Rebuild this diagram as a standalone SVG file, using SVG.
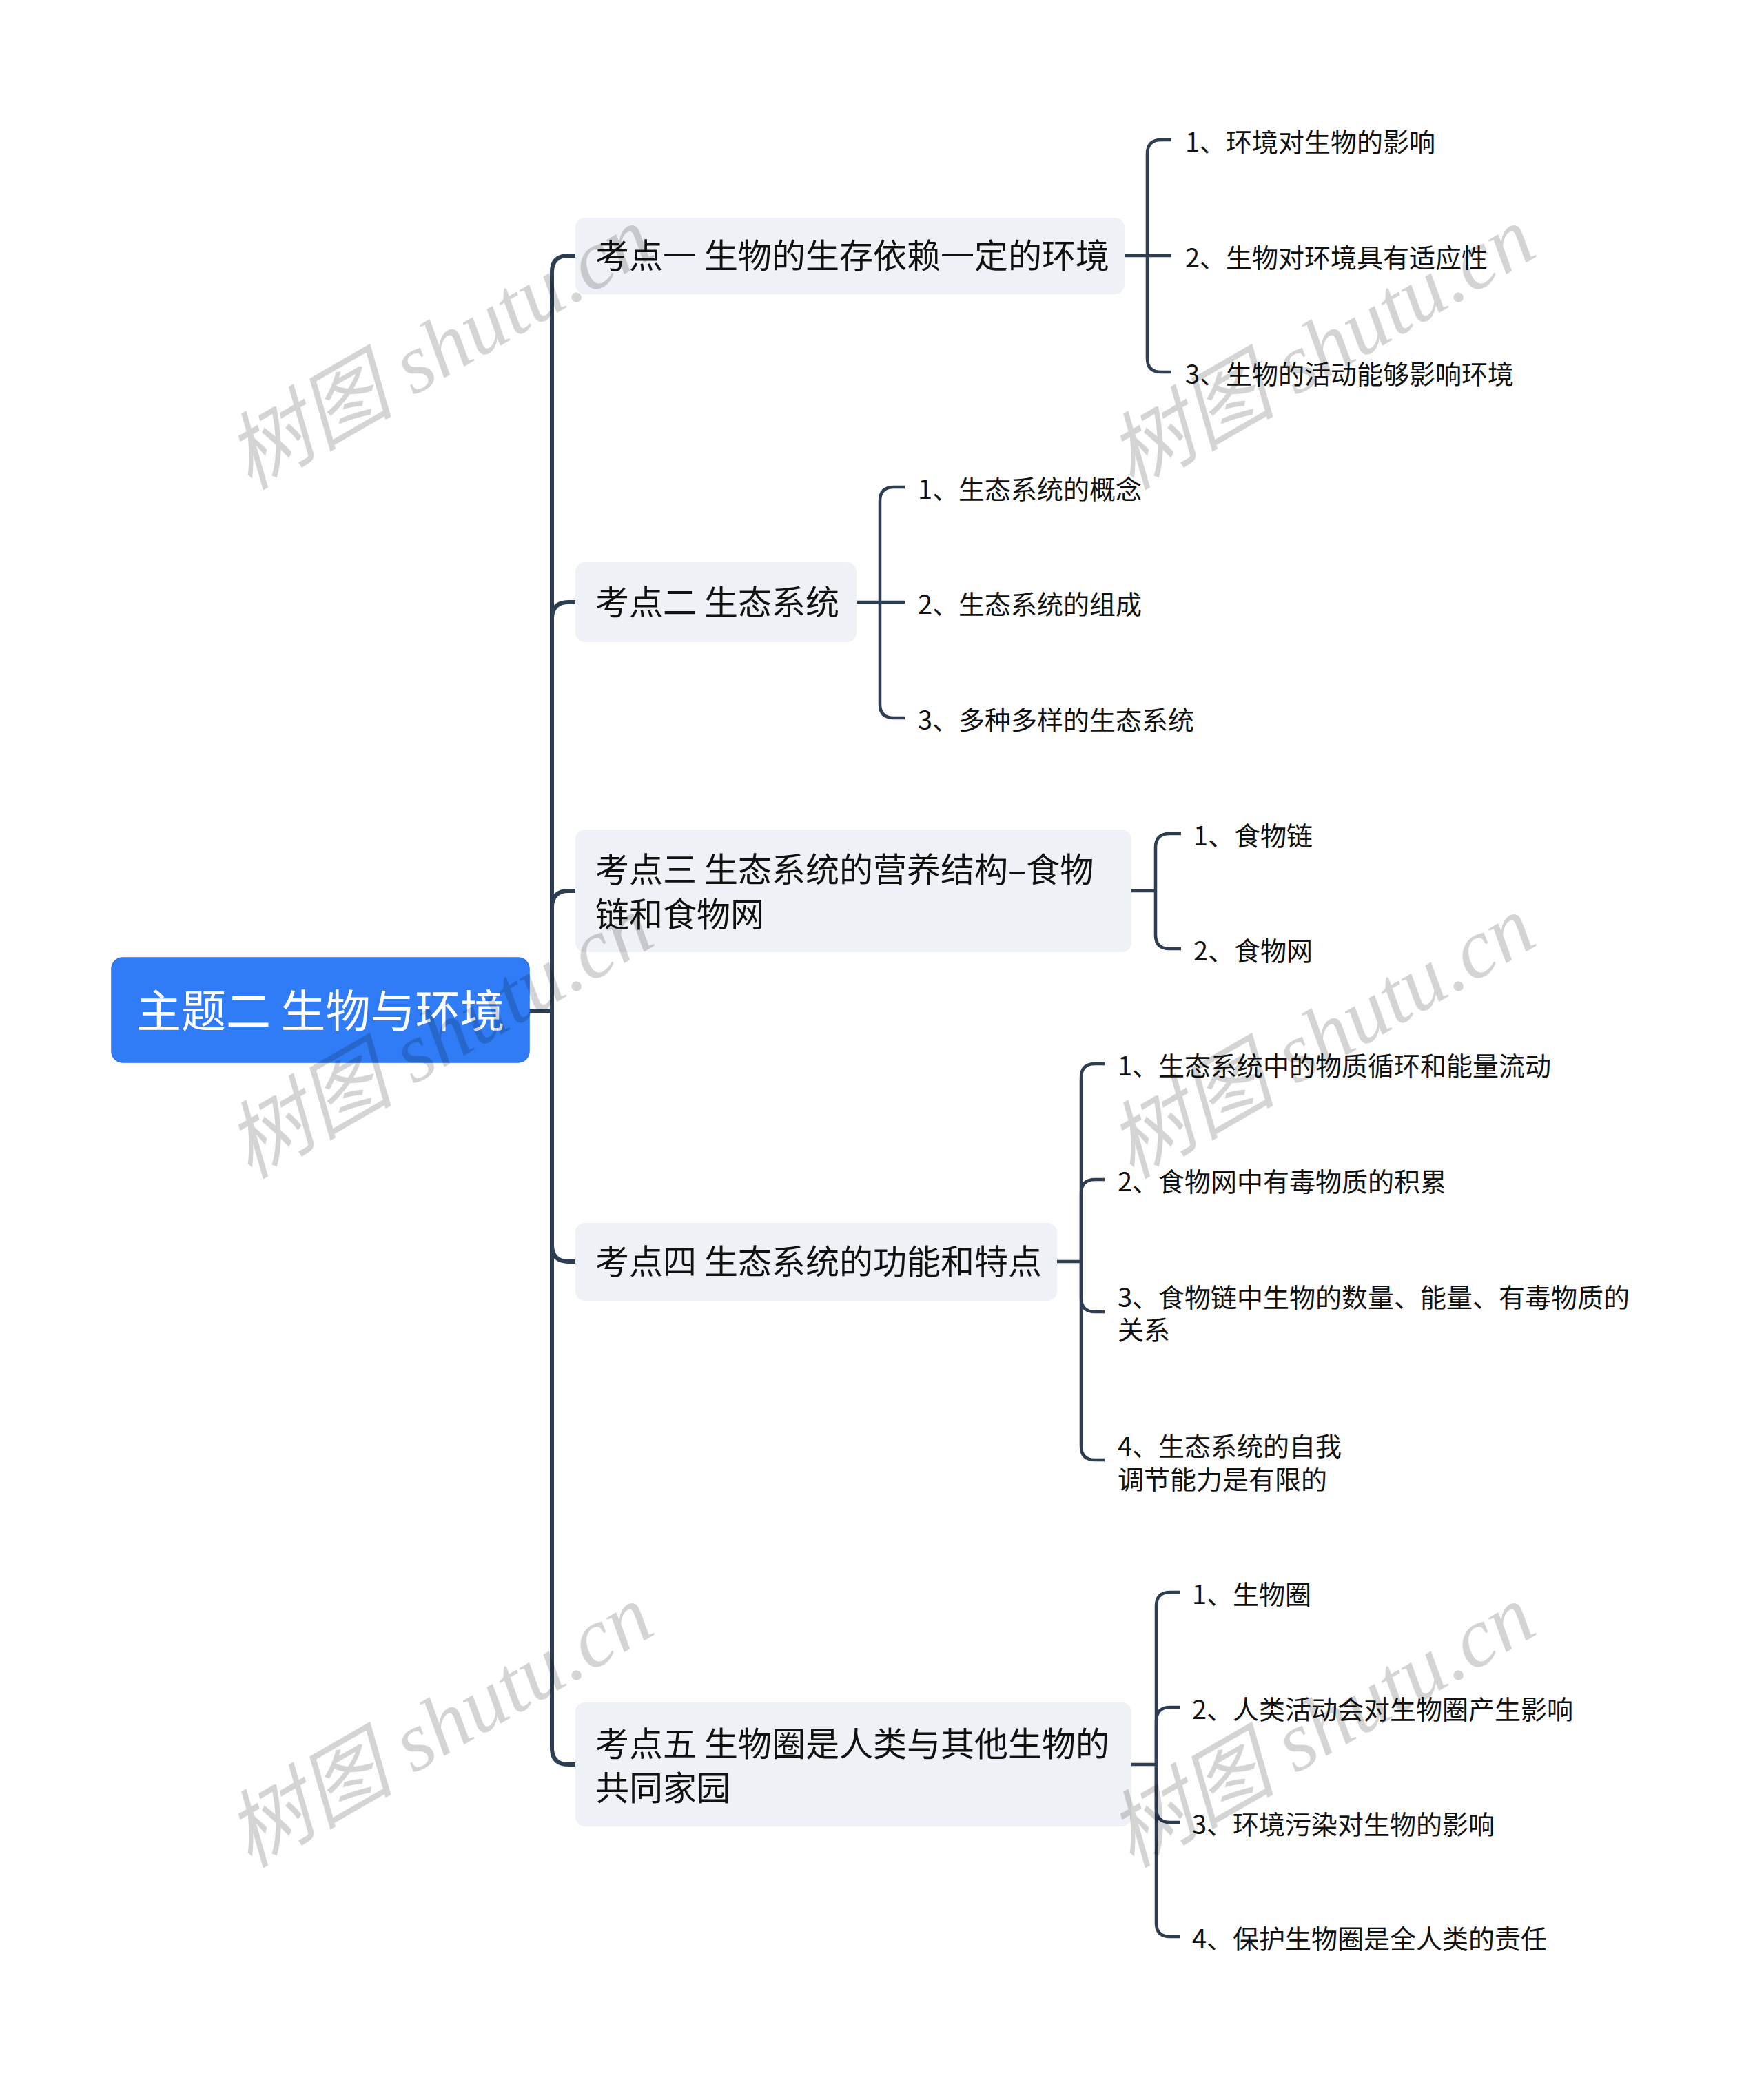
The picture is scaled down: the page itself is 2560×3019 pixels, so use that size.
<svg xmlns="http://www.w3.org/2000/svg" width="2560" height="3019" viewBox="0 0 2560 3019">
<style>
.t{font-family:"Noto Sans CJK SC","Noto Sans",sans-serif;fill:#111}
.root{font-size:65px;fill:#fff}
.l1{font-size:49px}
.l2{font-size:38px}
.box{fill:#eef1f5}
.c1{fill:none;stroke:#2d3d52;stroke-width:6;stroke-linecap:butt}
.c2{fill:none;stroke:#2d3d52;stroke-width:4.5}
.wm{font-family:"Liberation Serif","Noto Sans CJK SC",serif;font-style:italic;font-size:122px;fill:#000;fill-opacity:0.17}
</style>
<rect width="2560" height="3019" fill="#fff"/>
<g id="connectors">
<path class="c1" d="M766 1467 H801"/>
<path class="c1" d="M801 1467 V395 Q801 371 825 371 H838"/>
<path class="c1" d="M801 1467 V898 Q801 874 825 874 H838"/>
<path class="c1" d="M801 1467 V1317 Q801 1293 825 1293 H838"/>
<path class="c1" d="M801 1467 V1807 Q801 1831 825 1831 H838"/>
<path class="c1" d="M801 1467 V2537 Q801 2561 825 2561 H838"/>
<path class="c2" d="M1630 371 H1700"/>
<path class="c2" d="M1665 371 V223 Q1665 203 1685 203 H1700"/>
<path class="c2" d="M1665 371 V520 Q1665 540 1685 540 H1700"/>
<path class="c2" d="M1241 874 H1313"/>
<path class="c2" d="M1277 874 V727 Q1277 707 1297 707 H1313"/>
<path class="c2" d="M1277 874 V1022 Q1277 1042 1297 1042 H1313"/>
<path class="c2" d="M1640 1293 H1677"/>
<path class="c2" d="M1677 1293 V1230 Q1677 1210 1697 1210 H1714"/>
<path class="c2" d="M1677 1293 V1357 Q1677 1377 1697 1377 H1714"/>
<path class="c2" d="M1532 1831 H1569"/>
<path class="c2" d="M1569 1831 V1564 Q1569 1544 1589 1544 H1603"/>
<path class="c2" d="M1569 1831 V1732 Q1569 1712 1589 1712 H1603"/>
<path class="c2" d="M1569 1831 V1884 Q1569 1904 1589 1904 H1603"/>
<path class="c2" d="M1569 1831 V2099 Q1569 2119 1589 2119 H1603"/>
<path class="c2" d="M1640 2561 H1678"/>
<path class="c2" d="M1678 2561 V2331 Q1678 2311 1698 2311 H1712"/>
<path class="c2" d="M1678 2561 V2498 Q1678 2478 1698 2478 H1712"/>
<path class="c2" d="M1678 2561 V2625 Q1678 2645 1698 2645 H1712"/>
<path class="c2" d="M1678 2561 V2791 Q1678 2811 1698 2811 H1712"/>
</g>
<g id="root">
<rect x="162" y="1390" width="606" height="152" rx="16" fill="#2f7cf6" stroke="#2a70e6" stroke-width="1.5"/>
<text class="t root" x="198" y="1491">主题二 生物与环境</text>
</g>
<g id="n1">
<rect class="box" x="835" y="316" width="797" height="111" rx="14"/>
<text class="t l1" x="864" y="389">考点一 生物的生存依赖一定的环境</text>
</g>
<g id="n1-1"><text class="t l2" x="1720" y="220">1、环境对生物的影响</text></g>
<g id="n1-2"><text class="t l2" x="1720" y="388">2、生物对环境具有适应性</text></g>
<g id="n1-3"><text class="t l2" x="1720" y="557">3、生物的活动能够影响环境</text></g>
<g id="n2">
<rect class="box" x="835" y="816" width="408" height="116" rx="14"/>
<text class="t l1" x="864" y="892">考点二 生态系统</text>
</g>
<g id="n2-1"><text class="t l2" x="1332" y="724">1、生态系统的概念</text></g>
<g id="n2-2"><text class="t l2" x="1332" y="891">2、生态系统的组成</text></g>
<g id="n2-3"><text class="t l2" x="1332" y="1059">3、多种多样的生态系统</text></g>
<g id="n3">
<rect class="box" x="835" y="1204" width="807" height="178" rx="14"/>
<text class="t l1" x="864" y="1280">考点三 生态系统的营养结构–食物</text>
<text class="t l1" x="864" y="1345">链和食物网</text>
</g>
<g id="n3-1"><text class="t l2" x="1732" y="1227">1、食物链</text></g>
<g id="n3-2"><text class="t l2" x="1732" y="1394">2、食物网</text></g>
<g id="n4">
<rect class="box" x="835" y="1775" width="699" height="113" rx="14"/>
<text class="t l1" x="864" y="1849">考点四 生态系统的功能和特点</text>
</g>
<g id="n4-1"><text class="t l2" x="1622" y="1561">1、生态系统中的物质循环和能量流动</text></g>
<g id="n4-2"><text class="t l2" x="1622" y="1729">2、食物网中有毒物质的积累</text></g>
<g id="n4-3">
<text class="t l2" x="1622" y="1897">3、食物链中生物的数量、能量、有毒物质的</text>
<text class="t l2" x="1622" y="1944">关系</text>
</g>
<g id="n4-4">
<text class="t l2" x="1622" y="2113">4、生态系统的自我</text>
<text class="t l2" x="1622" y="2161">调节能力是有限的</text>
</g>
<g id="n5">
<rect class="box" x="835" y="2471" width="807" height="180" rx="14"/>
<text class="t l1" x="864" y="2549">考点五 生物圈是人类与其他生物的</text>
<text class="t l1" x="864" y="2613">共同家园</text>
</g>
<g id="n5-1"><text class="t l2" x="1730" y="2328">1、生物圈</text></g>
<g id="n5-2"><text class="t l2" x="1730" y="2495">2、人类活动会对生物圈产生影响</text></g>
<g id="n5-3"><text class="t l2" x="1730" y="2662">3、环境污染对生物的影响</text></g>
<g id="n5-4"><text class="t l2" x="1730" y="2828">4、保护生物圈是全人类的责任</text></g>
<g id="watermarks">
<text class="wm" transform="translate(362 712) rotate(-30)">树图 shutu.cn</text>
<text class="wm" transform="translate(1642 712) rotate(-30)">树图 shutu.cn</text>
<text class="wm" transform="translate(362 1712) rotate(-30)">树图 shutu.cn</text>
<text class="wm" transform="translate(1642 1712) rotate(-30)">树图 shutu.cn</text>
<text class="wm" transform="translate(362 2712) rotate(-30)">树图 shutu.cn</text>
<text class="wm" transform="translate(1642 2712) rotate(-30)">树图 shutu.cn</text>
</g>
</svg>
